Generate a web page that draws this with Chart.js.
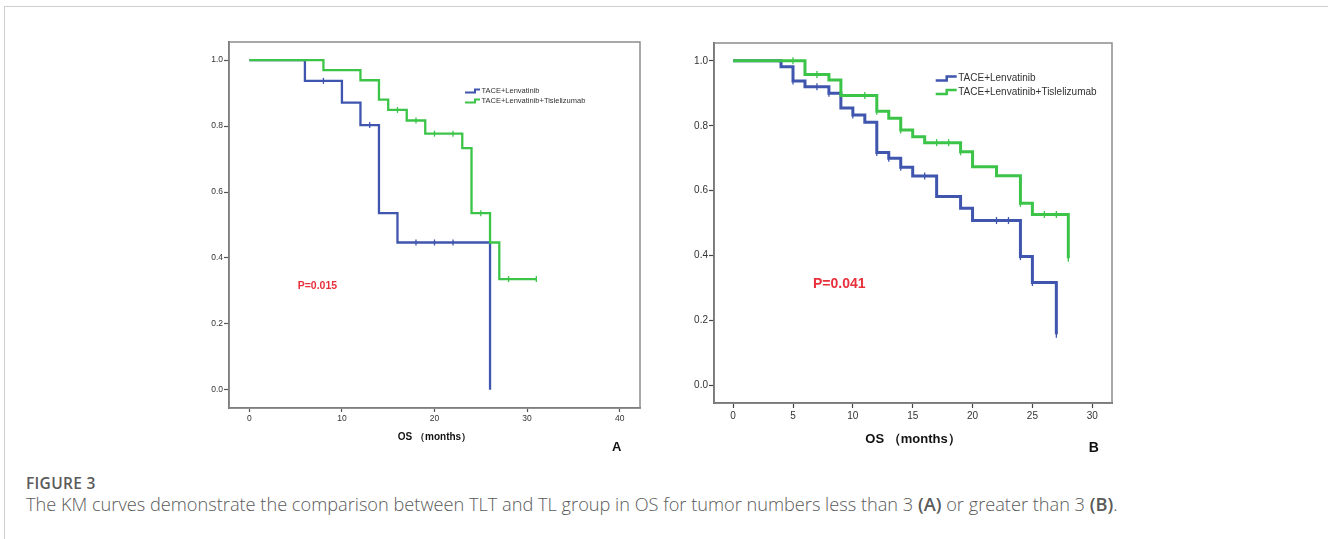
<!DOCTYPE html>
<html>
<head>
<meta charset="utf-8">
<title>Figure 3 – KM curves</title>
<script src="https://cdn.jsdelivr.net/npm/chart.js@4.4.1/dist/chart.umd.min.js"></script>
<style>
  html, body { margin: 0; padding: 0; background: #fff; }
  body { width: 1328px; height: 539px; position: relative; overflow: hidden; }
  #frame {
    position: absolute; left: 4px; top: 6px; width: 1330px; height: 560px;
    border-left: 1px solid #cfcfcf; border-top: 1px solid #cfcfcf;
  }
  canvas { position: absolute; }
  #chartA { left: 170px; top: 30px; }
  #chartB { left: 660px; top: 30px; }
  .fig-label {
    position: absolute; left: 26px; top: 472px;
    font-family: "Open Sans", sans-serif; font-size: 15.5px; font-weight: 600;
    color: #5a5a5a; letter-spacing: 0.3px;
  }
  .fig-caption {
    position: absolute; left: 26px; top: 492px; white-space: nowrap;
    font-family: "Open Sans", sans-serif; font-size: 18.2px; font-weight: 300;
    color: #5a5a5a;
  }
  .fig-caption b { font-weight: 600; }
</style>
</head>
<body>
<div id="frame"></div>
<canvas id="chartA" width="490" height="430"></canvas>
<canvas id="chartB" width="470" height="430"></canvas>
<div class="fig-label">FIGURE 3</div>
<div class="fig-caption">The KM curves demonstrate the comparison between TLT and TL group in OS for tumor numbers less than 3 <b>(A)</b> or greater than 3 <b>(B)</b>.</div>

<script>
  // ---- data -----------------------------------------------------------------

  // Panel A : tumour number < 3
  const timesA_TL   = [0, 6, 10, 12, 14, 16, 26];
  const survA_TL    = [1.0, 0.937, 0.871, 0.803, 0.536, 0.447, 0.0];
  const censorA_TL  = [8, 13, 18, 20, 22];

  const timesA_TLT  = [0, 8, 12, 14, 15, 17, 19, 23, 24, 26, 27, 31];
  const survA_TLT   = [1.0, 0.970, 0.939, 0.880, 0.849, 0.817, 0.777, 0.733, 0.536, 0.447, 0.336, 0.336];
  const censorA_TLT = [16, 18, 20, 22, 25, 28, 31];

  // Panel B : tumour number > 3
  const timesB_TL   = [0, 4, 5, 6, 8, 9, 10, 11, 12, 13, 14, 15, 17, 19, 20, 24, 25, 27];
  const survB_TL    = [1.0, 0.982, 0.938, 0.920, 0.900, 0.855, 0.833, 0.811, 0.718, 0.700, 0.672, 0.645, 0.582, 0.546, 0.508, 0.397, 0.317, 0.158];
  const censorB_TL  = [5, 7, 8, 10, 12, 13, 14, 16, 22, 23, 24, 25, 27];

  const timesB_TLT  = [0, 6, 8, 9, 12, 13, 14, 15, 16, 19, 20, 22, 24, 25, 28];
  const survB_TLT   = [1.0, 0.958, 0.941, 0.893, 0.845, 0.823, 0.787, 0.766, 0.748, 0.720, 0.674, 0.646, 0.561, 0.527, 0.392];
  const censorB_TLT = [5, 7, 11, 12, 14, 17, 18, 19, 24, 26, 27, 28];

  const seriesLabels = ['TACE+Lenvatinib', 'TACE+Lenvatinib+Tislelizumab'];
  const yTicks  = [0, 0.2, 0.4, 0.6, 0.8, 1.0];
  const xTicksA = [0, 10, 20, 30, 40];
  const xTicksB = [0, 5, 10, 15, 20, 25, 30];

  const BLUE  = '#3f55ae';
  const GREEN = '#3cc449';
  const RED   = '#e8303c';

  // ---- helpers ----------------------------------------------------------------

  function toPoints(times, surv) {
    return times.map((t, i) => ({ x: t, y: surv[i] }));
  }

  // survival value of the step curve at time t (used to sit the censor ticks on the curve)
  function survAt(times, surv, t) {
    let s = surv[0];
    for (let i = 0; i < times.length; i++) if (times[i] <= t) s = surv[i];
    return s;
  }

  function censorPoints(times, surv, cens) {
    return cens.map(t => ({ x: t, y: survAt(times, surv, t) }));
  }

  // frame, legend, p-value and panel letter
  const kmDecor = {
    id: 'kmDecor',
    beforeDatasetsDraw(chart, args, o) {
      const { ctx, chartArea: a } = chart;
      ctx.save();
      ctx.strokeStyle = o.frameColor;
      ctx.lineWidth = o.frameWidth;
      ctx.strokeRect(a.left, a.top, a.right - a.left, a.bottom - a.top);
      ctx.restore();
    },
    afterDraw(chart, args, o) {
      const { ctx, chartArea: a } = chart;
      ctx.save();
      // legend with step icons
      o.legend.forEach((item, i) => {
        const x = a.left + o.legendX;
        const y = a.top + o.legendY + i * o.legendGap;
        ctx.strokeStyle = item.color;
        ctx.lineWidth = o.iconWidth;
        ctx.beginPath();
        ctx.moveTo(x, y + o.iconH / 2);
        ctx.lineTo(x + o.iconStep, y + o.iconH / 2);
        ctx.lineTo(x + o.iconStep, y - o.iconH / 2);
        ctx.lineTo(x + o.iconLen, y - o.iconH / 2);
        ctx.stroke();
        ctx.fillStyle = '#333';
        ctx.font = o.legendFont;
        ctx.textBaseline = 'middle';
        ctx.textAlign = 'left';
        ctx.fillText(item.text, x + o.iconLen + 1.5, y);
      });
      // p value
      ctx.fillStyle = RED;
      ctx.font = o.pFont;
      ctx.textBaseline = 'middle';
      ctx.fillText(o.pText, a.left + o.pX, a.top + o.pY);
      // panel letter
      ctx.fillStyle = '#111';
      ctx.font = o.letterFont;
      ctx.textAlign = 'center';
      ctx.fillText(o.letter, a.left + o.letterX, a.top + o.letterY);
      ctx.restore();
    }
  };

  function makeChart(canvasId, p) {
    const datasets = [
      { data: toPoints(p.times[0], p.surv[0]), borderColor: BLUE, borderWidth: p.lineW,
        stepped: 'before', pointRadius: 0, fill: false, order: 2 },
      { data: toPoints(p.times[1], p.surv[1]), borderColor: GREEN, borderWidth: p.lineW,
        stepped: 'before', pointRadius: 0, fill: false, order: 1 },
      { data: censorPoints(p.times[0], p.surv[0], p.cens[0]), showLine: false, borderColor: BLUE,
        pointStyle: 'line', rotation: 90, pointRadius: p.censR, pointBorderWidth: 1.3, order: 0 },
      { data: censorPoints(p.times[1], p.surv[1], p.cens[1]), showLine: false, borderColor: GREEN,
        pointStyle: 'line', rotation: 90, pointRadius: p.censR, pointBorderWidth: 1.3, order: 0 }
    ];

    return new Chart(document.getElementById(canvasId), {
      type: 'line',
      data: { datasets },
      plugins: [kmDecor],
      options: {
        responsive: false,
        animation: false,
        layout: { padding: p.padding },
        plugins: {
          legend: { display: false },
          tooltip: { enabled: false },
          kmDecor: p.decor
        },
        scales: {
          x: {
            type: 'linear', min: p.xMin, max: p.xMax,
            afterBuildTicks: s => { s.ticks = p.xTicks.map(v => ({ value: v })); },
            afterFit: s => { s.height = p.xAxisH; },
            border: { display: true, color: p.axisColor, width: p.axisW },
            grid: { display: true, drawOnChartArea: false, drawTicks: true,
                    tickLength: p.tickLen, tickColor: p.axisColor, tickWidth: 1.2 },
            ticks: { color: '#333', padding: p.xTickPad, maxRotation: 0,
                     font: { family: 'Liberation Sans, Arial', size: p.tickFont } },
            title: { display: true, text: 'OS （months）', color: '#111',
                     font: { family: 'Liberation Sans, Arial', size: p.titleFont, weight: 'bold' },
                     padding: { top: 0, bottom: p.titlePadB } }
          },
          y: {
            type: 'linear', min: p.yMin, max: p.yMax,
            afterBuildTicks: s => { s.ticks = yTicks.map(v => ({ value: v })); },
            afterFit: s => { s.width = p.yAxisW; },
            border: { display: true, color: p.axisColor, width: p.axisW },
            grid: { display: true, drawOnChartArea: false, drawTicks: true,
                    tickLength: 5, tickColor: p.axisColor, tickWidth: 1.2 },
            ticks: { color: '#333', padding: 1,
                     callback: v => v.toFixed(1),
                     font: { family: 'Liberation Sans, Arial', size: p.tickFont } }
          }
        }
      }
    });
  }

  // ---- panel A ------------------------------------------------------------------
  makeChart('chartA', {
    times: [timesA_TL, timesA_TLT], surv: [survA_TL, survA_TLT], cens: [censorA_TL, censorA_TLT],
    xMin: -2.2, xMax: 42.2, yMin: -0.055, yMax: 1.055, xTicks: xTicksA,
    padding: { top: 12, right: 20, bottom: 0, left: 0 },
    yAxisW: 59, xAxisH: 52, tickLen: 4, xTickPad: 2, tickFont: 8.5,
    titleFont: 10, titlePadB: 17,
    lineW: 2.3, censR: 3, axisColor: '#555', axisW: 1.6,
    decor: {
      frameColor: '#8c8c8c', frameWidth: 1.5,
      legend: [{ text: seriesLabels[0], color: BLUE }, { text: seriesLabels[1], color: GREEN }],
      legendX: 236, legendY: 49, legendGap: 10, legendFont: '7.5px "Liberation Sans", Arial',
      iconLen: 15, iconStep: 10, iconH: 3, iconWidth: 2,
      pText: 'P=0.015', pX: 68.7, pY: 244.5, pFont: 'bold 10.5px "Liberation Sans", Arial',
      letter: 'A', letterX: 387.7, letterY: 405.7, letterFont: 'bold 13px "Liberation Sans", Arial'
    }
  });

  // ---- panel B ------------------------------------------------------------------
  makeChart('chartB', {
    times: [timesB_TL, timesB_TLT], surv: [survB_TL, survB_TLT], cens: [censorB_TL, censorB_TLT],
    xMin: -1.6, xMax: 31.65, yMin: -0.054, yMax: 1.055, xTicks: xTicksB,
    padding: { top: 13, right: 18, bottom: 0, left: 0 },
    yAxisW: 54, xAxisH: 57, tickLen: 5, xTickPad: 2.5, tickFont: 10,
    titleFont: 13, titlePadB: 13,
    lineW: 3, censR: 3.5, axisColor: '#444', axisW: 1.8,
    decor: {
      frameColor: '#8c8c8c', frameWidth: 1.5,
      legend: [{ text: seriesLabels[0], color: BLUE }, { text: seriesLabels[1], color: GREEN }],
      legendX: 221.7, legendY: 35.6, legendGap: 13.4, legendFont: '10px "Liberation Sans", Arial',
      iconLen: 21, iconStep: 11, iconH: 4, iconWidth: 2.5,
      pText: 'P=0.041', pX: 99, pY: 241.6, pFont: 'bold 14px "Liberation Sans", Arial',
      letter: 'B', letterX: 379.7, letterY: 405.3, letterFont: 'bold 14px "Liberation Sans", Arial'
    }
  });
</script>
</body>
</html>
